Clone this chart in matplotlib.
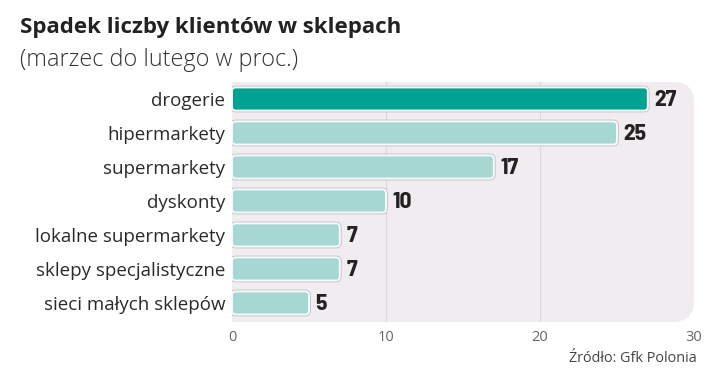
import matplotlib
matplotlib.use('Agg')
import matplotlib.pyplot as plt
from matplotlib.patches import FancyBboxPatch, Rectangle

# dane
categories = ['drogerie', 'hipermarkety', 'supermarkety', 'dyskonty',
              'lokalne supermarkety', 'sklepy specjalistyczne', 'sieci małych sklepów']
values = [27, 25, 17, 10, 7, 7, 5]
xticks = [0, 10, 20, 30]

title = 'Spadek liczby klientów w sklepach'
subtitle = '(marzec do lutego w proc.)'
source = 'Źródło: Gfk Polonia'

hi_color = '#00a392'
bar_color = '#a7d7d3'
panel_color = '#f0ecf0'
cond = ['Barlow Semi Condensed', 'DejaVu Sans']

fig = plt.figure(figsize=(7.2, 3.78), dpi=100)
ax = fig.add_axes([232/720, 1-322/378, 462/720, 240/378])
ax.set_xlim(0, 30)
ax.set_ylim(len(values) - 0.44, -0.5)

# tlo panelu - zaokraglone z prawej strony
panel = FancyBboxPatch((0, 0), 1, 1, boxstyle='round,pad=0,rounding_size=0.045',
                       mutation_aspect=462/240, transform=ax.transAxes,
                       fc=panel_color, ec='none', zorder=0, clip_on=False)
ax.add_patch(panel)
ax.add_patch(Rectangle((0, 0), 0.5, 1, transform=ax.transAxes, fc=panel_color,
                       ec='none', zorder=0, clip_on=False))
for s in ax.spines.values():
    s.set_visible(False)
ax.patch.set_visible(False)

for g in [10, 20]:
    ax.axvline(g, color='#dcd7dc', lw=0.8, zorder=1)

bars = ax.barh(range(len(values)), values, height=0.68)
asp = (1/34) / (1/15.4)
for i, r in enumerate(bars):
    r.set_visible(False)
    x, y, w, h = r.get_x(), r.get_y(), r.get_width(), r.get_height()
    shadow = FancyBboxPatch((x, y), w, h,
                            boxstyle='round,pad=0,rounding_size=0.25',
                            mutation_aspect=asp, fc='none', ec='#c4bfc4', lw=2.6, zorder=2)
    ax.add_patch(shadow)
    p = FancyBboxPatch((x, y), w, h, boxstyle='round,pad=0,rounding_size=0.25',
                       mutation_aspect=asp, fc=hi_color if i == 0 else bar_color,
                       ec='#f4fbfa', lw=1.4, zorder=3)
    ax.add_patch(p)
    ax.text(w + 0.42, i + 0.03, str(values[i]), va='center', ha='left', fontsize=17,
            fontweight='bold', color='#222222', family=cond, zorder=4)

ax.set_yticks(range(len(values)))
ax.set_yticklabels(categories, fontsize=13.5, color='#2a2a2a', family='Open Sans')
ax.set_xticks(xticks)
ax.set_xticklabels([str(t) for t in xticks], fontsize=10.5, color='#666666', family='Open Sans')
ax.tick_params(length=0, axis='y', pad=5)
ax.tick_params(length=0, axis='x', pad=6)

fig.text(20/720, 1-28/378, title, fontsize=16, fontweight='bold', color='#222222',
         family='Open Sans', va='center', ha='left')
fig.text(20/720, 1-60/378, subtitle, fontsize=16.8, fontweight='light', color='#333333',
         family='Open Sans', va='center', ha='left')
fig.text(697/720, 1-358/378, source, fontsize=10.4, color='#444444',
         family='Open Sans', va='center', ha='right')

fig.savefig('out.png', dpi=100)
